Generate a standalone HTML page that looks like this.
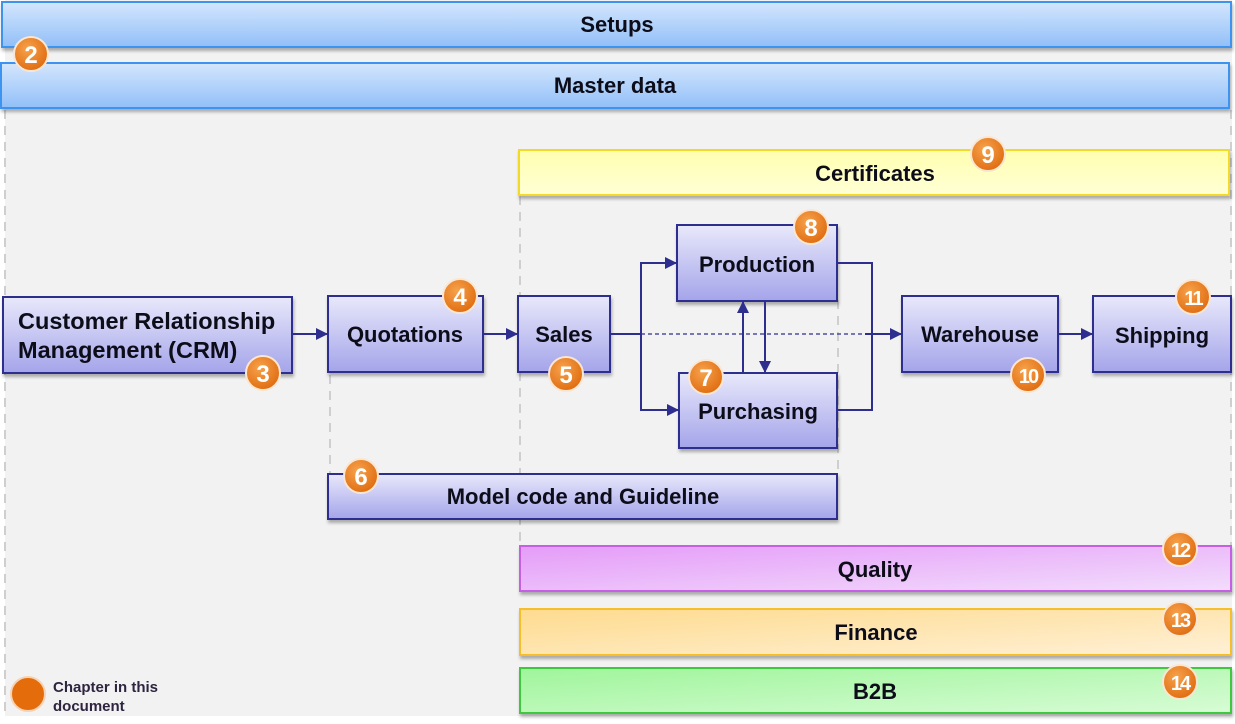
<!DOCTYPE html>
<html><head><meta charset="utf-8"><style>
html,body{margin:0;padding:0;background:#fff;width:1235px;height:724px;overflow:hidden}
svg{display:block}
text{font-family:"Liberation Sans",sans-serif;font-weight:bold;fill:#0d0d1a}
</style></head><body>
<svg width="1235" height="724" viewBox="0 0 1235 724" xmlns="http://www.w3.org/2000/svg">
<defs>
<linearGradient id="blue" x1="0" y1="0" x2="0" y2="1"><stop offset="0" stop-color="#d4e6fd"/><stop offset="1" stop-color="#91bff8"/></linearGradient>
<linearGradient id="pur" x1="0" y1="0" x2="0" y2="1"><stop offset="0" stop-color="#e8e8fb"/><stop offset="1" stop-color="#a4a4ea"/></linearGradient>
<linearGradient id="yel" x1="0" y1="0" x2="0" y2="1"><stop offset="0" stop-color="#ffffb0"/><stop offset="1" stop-color="#ffffd6"/></linearGradient>
<linearGradient id="mag" x1="0" y1="0" x2="1" y2="1"><stop offset="0" stop-color="#e59cf8"/><stop offset="1" stop-color="#f2ddfc"/></linearGradient>
<linearGradient id="org" x1="0" y1="0" x2="1" y2="1"><stop offset="0" stop-color="#fedb8e"/><stop offset="1" stop-color="#fff0d6"/></linearGradient>
<linearGradient id="grn" x1="0" y1="0" x2="1" y2="1"><stop offset="0" stop-color="#9ff59b"/><stop offset="1" stop-color="#d8fcd6"/></linearGradient>
<radialGradient id="bad" cx="0.4" cy="0.35" r="0.7"><stop offset="0" stop-color="#f6a24c"/><stop offset="1" stop-color="#df6a0e"/></radialGradient>
<filter id="sh" x="-5%" y="-20%" width="110%" height="150%"><feDropShadow dx="1" dy="3" stdDeviation="1.5" flood-color="#000" flood-opacity="0.3"/></filter>
<marker id="ar" markerWidth="12" markerHeight="12" refX="11" refY="6" orient="auto" markerUnits="userSpaceOnUse"><path d="M0,0 L12,6 L0,12 z" fill="#2e2e8e"/></marker>
</defs>
<rect x="5" y="0" width="1227" height="716" fill="#f2f2f2"/>
<g stroke="#cfcfcf" stroke-width="2" stroke-dasharray="9,7" fill="none">
<line x1="5" y1="110" x2="5" y2="716"/>
<line x1="330" y1="375" x2="330" y2="474"/>
<line x1="520" y1="196" x2="520" y2="546"/>
<line x1="838" y1="300" x2="838" y2="474"/>
<line x1="1231" y1="110" x2="1231" y2="546"/>
</g>
<g filter="url(#sh)">
<rect x="2" y="2" width="1229" height="45" fill="url(#blue)" stroke="#3d94f0" stroke-width="2"/>
<rect x="1" y="63" width="1228" height="45" fill="url(#blue)" stroke="#3d94f0" stroke-width="2"/>
<rect x="519" y="150" width="710" height="45" fill="url(#yel)" stroke="#f2d92a" stroke-width="2"/>
<rect x="520" y="546" width="711" height="45" fill="url(#mag)" stroke="#c55ee6" stroke-width="2"/>
<rect x="520" y="609" width="711" height="46" fill="url(#org)" stroke="#f5be2a" stroke-width="2"/>
<rect x="520" y="668" width="711" height="45" fill="url(#grn)" stroke="#3cc83c" stroke-width="2"/>
<g fill="url(#pur)" stroke="#2e2e8e" stroke-width="2">
<rect x="3" y="297" width="289" height="76"/>
<rect x="328" y="296" width="155" height="76"/>
<rect x="518" y="296" width="92" height="76"/>
<rect x="677" y="225" width="160" height="76"/>
<rect x="679" y="373" width="158" height="75"/>
<rect x="902" y="296" width="156" height="76"/>
<rect x="1093" y="296" width="138" height="76"/>
<rect x="328" y="474" width="509" height="45"/>
</g>
</g>
<g stroke="#2e2e8e" stroke-width="2" fill="none">
<line x1="292" y1="334" x2="327" y2="334" marker-end="url(#ar)"/>
<line x1="483" y1="334" x2="517" y2="334" marker-end="url(#ar)"/>
<polyline points="610,334 641,334 641,263 676,263" marker-end="url(#ar)"/>
<polyline points="641,334 641,410 678,410" marker-end="url(#ar)"/>
<line x1="743" y1="373" x2="743" y2="302" marker-end="url(#ar)"/>
<line x1="765" y1="301" x2="765" y2="372" marker-end="url(#ar)"/>
<polyline points="837,263 872,263 872,410 837,410"/>
<line x1="865" y1="334" x2="901" y2="334" marker-end="url(#ar)"/>
<line x1="1058" y1="334" x2="1092" y2="334" marker-end="url(#ar)"/>
<line x1="641" y1="334" x2="865" y2="334" stroke-width="1.2" stroke-dasharray="4,3"/>
</g>
<g text-anchor="middle" font-size="22">
<text x="617" y="32">Setups</text>
<text x="615" y="93">Master data</text>
<text x="875" y="181">Certificates</text>
<text x="405" y="342">Quotations</text>
<text x="564" y="342">Sales</text>
<text x="757" y="272">Production</text>
<text x="758" y="419">Purchasing</text>
<text x="980" y="342">Warehouse</text>
<text x="1162" y="343">Shipping</text>
<text x="583" y="504">Model code and Guideline</text>
<text x="875" y="577">Quality</text>
<text x="876" y="640">Finance</text>
<text x="875" y="699">B2B</text>
</g>
<text x="18" y="329" font-size="23.5">Customer Relationship</text>
<text x="18" y="358" font-size="23.5">Management (CRM)</text>
<g>
<circle cx="28" cy="694" r="17" fill="#e46c0a" stroke="#f6d3b5" stroke-width="2"/>
<text x="53" y="692" font-size="15" style="fill:#2e2440">Chapter in this</text>
<text x="53" y="711" font-size="15" style="fill:#2e2440">document</text>
</g>
<g font-size="24" text-anchor="middle">
<g transform="translate(31,54)"><circle r="17" fill="url(#bad)" stroke="#fbe6d2" stroke-width="2"/><text y="9" style="fill:#fff">2</text></g>
<g transform="translate(263,373)"><circle r="17" fill="url(#bad)" stroke="#fbe6d2" stroke-width="2"/><text y="9" style="fill:#fff">3</text></g>
<g transform="translate(460,296)"><circle r="17" fill="url(#bad)" stroke="#fbe6d2" stroke-width="2"/><text y="9" style="fill:#fff">4</text></g>
<g transform="translate(566,374)"><circle r="17" fill="url(#bad)" stroke="#fbe6d2" stroke-width="2"/><text y="9" style="fill:#fff">5</text></g>
<g transform="translate(361,476)"><circle r="17" fill="url(#bad)" stroke="#fbe6d2" stroke-width="2"/><text y="9" style="fill:#fff">6</text></g>
<g transform="translate(706,377)"><circle r="17" fill="url(#bad)" stroke="#fbe6d2" stroke-width="2"/><text y="9" style="fill:#fff">7</text></g>
<g transform="translate(811,227)"><circle r="17" fill="url(#bad)" stroke="#fbe6d2" stroke-width="2"/><text y="9" style="fill:#fff">8</text></g>
<g transform="translate(988,154)"><circle r="17" fill="url(#bad)" stroke="#fbe6d2" stroke-width="2"/><text y="9" style="fill:#fff">9</text></g>
<g transform="translate(1028,375)"><circle r="17" fill="url(#bad)" stroke="#fbe6d2" stroke-width="2"/><text y="8" font-size="20" style="fill:#fff;letter-spacing:-2px">10</text></g>
<g transform="translate(1193,297)"><circle r="17" fill="url(#bad)" stroke="#fbe6d2" stroke-width="2"/><text y="8" font-size="20" style="fill:#fff;letter-spacing:-2px">11</text></g>
<g transform="translate(1180,549)"><circle r="17" fill="url(#bad)" stroke="#fbe6d2" stroke-width="2"/><text y="8" font-size="20" style="fill:#fff;letter-spacing:-2px">12</text></g>
<g transform="translate(1180,619)"><circle r="17" fill="url(#bad)" stroke="#fbe6d2" stroke-width="2"/><text y="8" font-size="20" style="fill:#fff;letter-spacing:-2px">13</text></g>
<g transform="translate(1180,682)"><circle r="17" fill="url(#bad)" stroke="#fbe6d2" stroke-width="2"/><text y="8" font-size="20" style="fill:#fff;letter-spacing:-2px">14</text></g>
</g>
</svg>
</body></html>
